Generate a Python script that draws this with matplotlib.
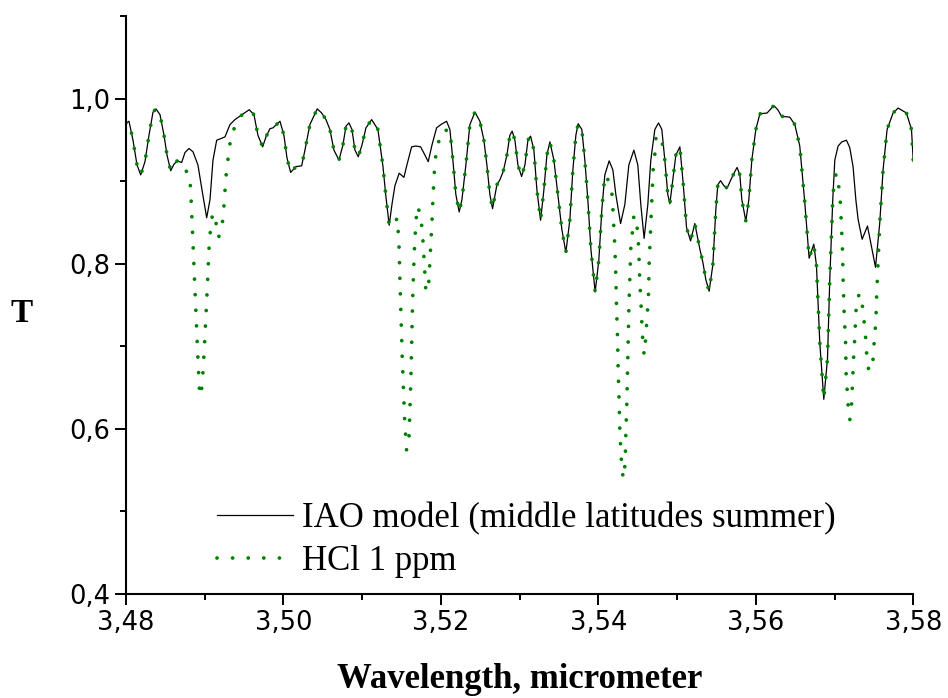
import matplotlib
matplotlib.use('Agg')
import matplotlib.pyplot as plt
from matplotlib.ticker import MultipleLocator, FuncFormatter
import numpy as np

# IAO atmosphere model, middle latitudes summer
wl_model = np.array([
    3.48000, 3.48038, 3.48089, 3.48140, 3.48187, 3.48241, 3.48292, 3.48343, 3.48381, 3.48432,
    3.48483, 3.48521, 3.48568, 3.48610, 3.48651, 3.48707, 3.48749, 3.48800, 3.48851, 3.48914,
    3.48965, 3.49025, 3.49067, 3.49105, 3.49152, 3.49206, 3.49257, 3.49321, 3.49384, 3.49473,
    3.49566, 3.49625, 3.49676, 3.49736, 3.49778, 3.49829, 3.49867, 3.49956, 3.50006, 3.50044,
    3.50091, 3.50159, 3.50231, 3.50273, 3.50336, 3.50429, 3.50485, 3.50540, 3.50590, 3.50641,
    3.50705, 3.50755, 3.50794, 3.50832, 3.50870, 3.50908, 3.50950, 3.50997, 3.51048, 3.51120,
    3.51200, 3.51263, 3.51301, 3.51343, 3.51378, 3.51416, 3.51470, 3.51530, 3.51568, 3.51628,
    3.51682, 3.51742, 3.51797, 3.51839, 3.51886, 3.51945, 3.52000, 3.52072, 3.52114, 3.52152,
    3.52190, 3.52232, 3.52267, 3.52317, 3.52368, 3.52432, 3.52495, 3.52546, 3.52584, 3.52622,
    3.52656, 3.52711, 3.52749, 3.52791, 3.52838, 3.52876, 3.52905, 3.52940, 3.52978, 3.53025,
    3.53067, 3.53105, 3.53139, 3.53181, 3.53219, 3.53266, 3.53308, 3.53346, 3.53384, 3.53435,
    3.53486, 3.53536, 3.53587, 3.53638, 3.53676, 3.53714, 3.53743, 3.53790, 3.53828, 3.53866,
    3.53905, 3.53959, 3.54006, 3.54044, 3.54082, 3.54137, 3.54184, 3.54222, 3.54282, 3.54336,
    3.54387, 3.54451, 3.54501, 3.54539, 3.54581, 3.54628, 3.54666, 3.54717, 3.54764, 3.54806,
    3.54844, 3.54882, 3.54908, 3.54946, 3.54984, 3.55035, 3.55077, 3.55120, 3.55171, 3.55225,
    3.55289, 3.55327, 3.55365, 3.55407, 3.55454, 3.55492, 3.55517, 3.55552, 3.55593, 3.55635,
    3.55682, 3.55733, 3.55762, 3.55797, 3.55822, 3.55873, 3.55911, 3.55949, 3.56000, 3.56051,
    3.56143, 3.56228, 3.56279, 3.56326, 3.56431, 3.56495, 3.56558, 3.56622, 3.56677, 3.56736,
    3.56770, 3.56812, 3.56863, 3.56910, 3.56939, 3.56977, 3.57003, 3.57045, 3.57092, 3.57151,
    3.57193, 3.57235, 3.57270, 3.57299, 3.57350, 3.57418, 3.57469, 3.57520, 3.57574, 3.57616,
    3.57667, 3.57743, 3.57807, 3.57913, 3.57977, 3.58000])
t_model = np.array([
    0.971, 0.973, 0.950, 0.920, 0.908, 0.924, 0.956, 0.984, 0.988, 0.981,
    0.956, 0.932, 0.913, 0.921, 0.925, 0.923, 0.935, 0.940, 0.936, 0.920,
    0.890, 0.856, 0.878, 0.926, 0.950, 0.952, 0.954, 0.969, 0.975, 0.981,
    0.987, 0.981, 0.956, 0.942, 0.954, 0.964, 0.965, 0.973, 0.956, 0.929,
    0.911, 0.918, 0.919, 0.938, 0.969, 0.988, 0.983, 0.975, 0.963, 0.938,
    0.926, 0.944, 0.967, 0.971, 0.963, 0.938, 0.930, 0.944, 0.965, 0.975,
    0.963, 0.919, 0.882, 0.847, 0.872, 0.895, 0.910, 0.905, 0.920, 0.942,
    0.943, 0.942, 0.932, 0.924, 0.944, 0.965, 0.969, 0.973, 0.963, 0.926,
    0.884, 0.863, 0.878, 0.920, 0.969, 0.984, 0.973, 0.950, 0.920, 0.884,
    0.867, 0.896, 0.902, 0.912, 0.932, 0.956, 0.961, 0.950, 0.920, 0.906,
    0.920, 0.950, 0.955, 0.938, 0.890, 0.853, 0.890, 0.932, 0.948, 0.926,
    0.884, 0.842, 0.814, 0.854, 0.914, 0.956, 0.970, 0.963, 0.926, 0.878,
    0.818, 0.766, 0.805, 0.866, 0.908, 0.925, 0.914, 0.884, 0.849, 0.872,
    0.920, 0.938, 0.920, 0.872, 0.831, 0.872, 0.926, 0.963, 0.971, 0.963,
    0.926, 0.884, 0.873, 0.902, 0.932, 0.942, 0.898, 0.844, 0.828, 0.849,
    0.818, 0.802, 0.781, 0.767, 0.799, 0.866, 0.896, 0.901, 0.895, 0.892,
    0.902, 0.912, 0.917, 0.908, 0.878, 0.852, 0.878, 0.926, 0.963, 0.982,
    0.983, 0.992, 0.987, 0.979, 0.978, 0.969, 0.943, 0.874, 0.807, 0.824,
    0.798, 0.705, 0.636, 0.685, 0.781, 0.878, 0.926, 0.943, 0.948, 0.950,
    0.941, 0.918, 0.878, 0.854, 0.830, 0.846, 0.821, 0.796, 0.850, 0.914,
    0.963, 0.983, 0.989, 0.983, 0.963, 0.924])

# HCl 1 ppm: same as the model except in the four HCl line regions below
hcl1_wl = [3.48715, 3.48804, 3.48822, 3.48855, 3.48880, 3.48906, 3.48931, 3.48950,
           3.48969, 3.48982, 3.49003, 3.49032, 3.49058, 3.49076, 3.49101, 3.49143,
           3.49172, 3.49215, 3.49244, 3.49270, 3.49299, 3.49321, 3.49362, 3.49426]
hcl1_t = [0.917, 0.909, 0.890, 0.815, 0.758, 0.702, 0.650, 0.640,
          0.656, 0.675, 0.713, 0.769, 0.826, 0.844, 0.862, 0.850,
          0.832, 0.840, 0.870, 0.906, 0.930, 0.946, 0.962, 0.973]

hcl2_wl = [3.51360, 3.51400, 3.51445, 3.51458, 3.51470, 3.51479, 3.51509, 3.51539,
           3.51564, 3.51594, 3.51619, 3.51641, 3.51661, 3.51682, 3.51699, 3.51742,
           3.51768, 3.51788, 3.51809, 3.51843, 3.51864, 3.51886, 3.51902, 3.51924,
           3.51953, 3.52021, 3.52072]
hcl2_t = [0.845, 0.846, 0.856, 0.838, 0.818, 0.781, 0.686, 0.612,
          0.574, 0.588, 0.662, 0.756, 0.813, 0.850, 0.870, 0.860,
          0.834, 0.803, 0.766, 0.773, 0.811, 0.850, 0.886, 0.924,
          0.943, 0.962, 0.962]

hcl3_wl = [3.54104, 3.54159, 3.54180, 3.54188, 3.54209, 3.54222, 3.54231, 3.54244,
           3.54251, 3.54264, 3.54273, 3.54294, 3.54315, 3.54340, 3.54349, 3.54362,
           3.54371, 3.54379, 3.54387, 3.54400, 3.54413, 3.54434, 3.54451, 3.54485,
           3.54505, 3.54514, 3.54527, 3.54539, 3.54556, 3.54568, 3.54581, 3.54599,
           3.54612, 3.54624, 3.54637, 3.54645, 3.54654, 3.54662, 3.54670, 3.54688,
           3.54696, 3.54717, 3.54730, 3.54764, 3.54806]
hcl3_t = [0.905, 0.896, 0.878, 0.859, 0.822, 0.784, 0.746, 0.709,
          0.671, 0.633, 0.596, 0.559, 0.540, 0.558, 0.596, 0.633,
          0.671, 0.709, 0.746, 0.784, 0.822, 0.840, 0.859, 0.851,
          0.832, 0.814, 0.776, 0.757, 0.720, 0.701, 0.690, 0.708,
          0.726, 0.745, 0.764, 0.801, 0.820, 0.839, 0.858, 0.896,
          0.915, 0.933, 0.952, 0.957, 0.950]

hcl4_wl = [3.56995, 3.57024, 3.57058, 3.57075, 3.57083, 3.57092, 3.57101, 3.57109,
           3.57122, 3.57131, 3.57140, 3.57147, 3.57160, 3.57173, 3.57194, 3.57215,
           3.57224, 3.57232, 3.57241, 3.57253, 3.57262, 3.57270, 3.57287, 3.57333,
           3.57359, 3.57380, 3.57397, 3.57409, 3.57435, 3.57486, 3.57498, 3.57515,
           3.57527, 3.57532, 3.57540, 3.57549]
hcl4_t = [0.902, 0.910, 0.891, 0.872, 0.854, 0.835, 0.816, 0.778,
          0.741, 0.722, 0.704, 0.666, 0.647, 0.628, 0.611, 0.628,
          0.647, 0.666, 0.685, 0.704, 0.722, 0.741, 0.760, 0.764,
          0.745, 0.726, 0.708, 0.689, 0.670, 0.681, 0.699, 0.718,
          0.737, 0.756, 0.774, 0.793]

# build the HCl curve: model outside the line regions, HCl values inside
segs = [(hcl1_wl, hcl1_t), (hcl2_wl, hcl2_t), (hcl3_wl, hcl3_t), (hcl4_wl, hcl4_t)]
keep = np.ones(len(wl_model), dtype=bool)
for sw, st in segs:
    keep &= ~((wl_model >= sw[0]) & (wl_model <= sw[-1]))
wl_hcl = np.concatenate([wl_model[keep]] + [np.array(sw) for sw, st in segs])
t_hcl = np.concatenate([t_model[keep]] + [np.array(st) for sw, st in segs])
order = np.argsort(wl_hcl)
wl_hcl, t_hcl = wl_hcl[order], t_hcl[order]

fig = plt.figure(figsize=(9.48, 6.98), dpi=100)
ax = fig.add_axes([0.1329, 0.149, 0.8305, 0.8274])

ax.plot(wl_model, t_model, color='black', lw=0.9,
        label='IAO model (middle latitudes summer)')
ax.plot(wl_hcl, t_hcl, color='#008000', lw=2.7, linestyle=(0, (0.01, 4.15)),
        dash_capstyle='round', label='HCl 1 ppm')

ax.set_xlim(3.48, 3.58)
ax.set_ylim(0.4, 1.1)
ax.spines['top'].set_visible(False)
ax.spines['right'].set_visible(False)
ax.spines['left'].set_linewidth(1.5)
ax.spines['bottom'].set_linewidth(1.5)

ax.xaxis.set_major_locator(MultipleLocator(0.02))
ax.xaxis.set_minor_locator(MultipleLocator(0.01))
ax.yaxis.set_major_locator(MultipleLocator(0.2))
ax.yaxis.set_minor_locator(MultipleLocator(0.1))
ax.xaxis.set_major_formatter(FuncFormatter(lambda v, p: f'{v:.2f}'.replace('.', ',')))
ax.yaxis.set_major_formatter(FuncFormatter(lambda v, p: f'{v:.1f}'.replace('.', ',')))
ax.tick_params(which='major', direction='out', length=8, width=1.4, labelsize=18.5, pad=3.5)
ax.tick_params(which='minor', direction='out', length=4.5, width=1.4)

ax.set_xlabel('Wavelength, micrometer', family='Liberation Serif', weight='bold',
              size=25, va='baseline')
ax.xaxis.set_label_coords(0.5, -0.163)
fig.text(21.7 / 948, 1 - 314 / 698, 'T', family='Liberation Serif', weight='bold',
         size=24, ha='center', va='center')

ax.legend(loc='upper left', bbox_to_anchor=(0.1156, 0.159), frameon=False,
          prop={'family': 'Liberation Serif', 'size': 25},
          handlelength=2.2, handletextpad=0.25, labelspacing=0.28,
          borderpad=0, borderaxespad=0)

fig.savefig('out.png', dpi=100)
